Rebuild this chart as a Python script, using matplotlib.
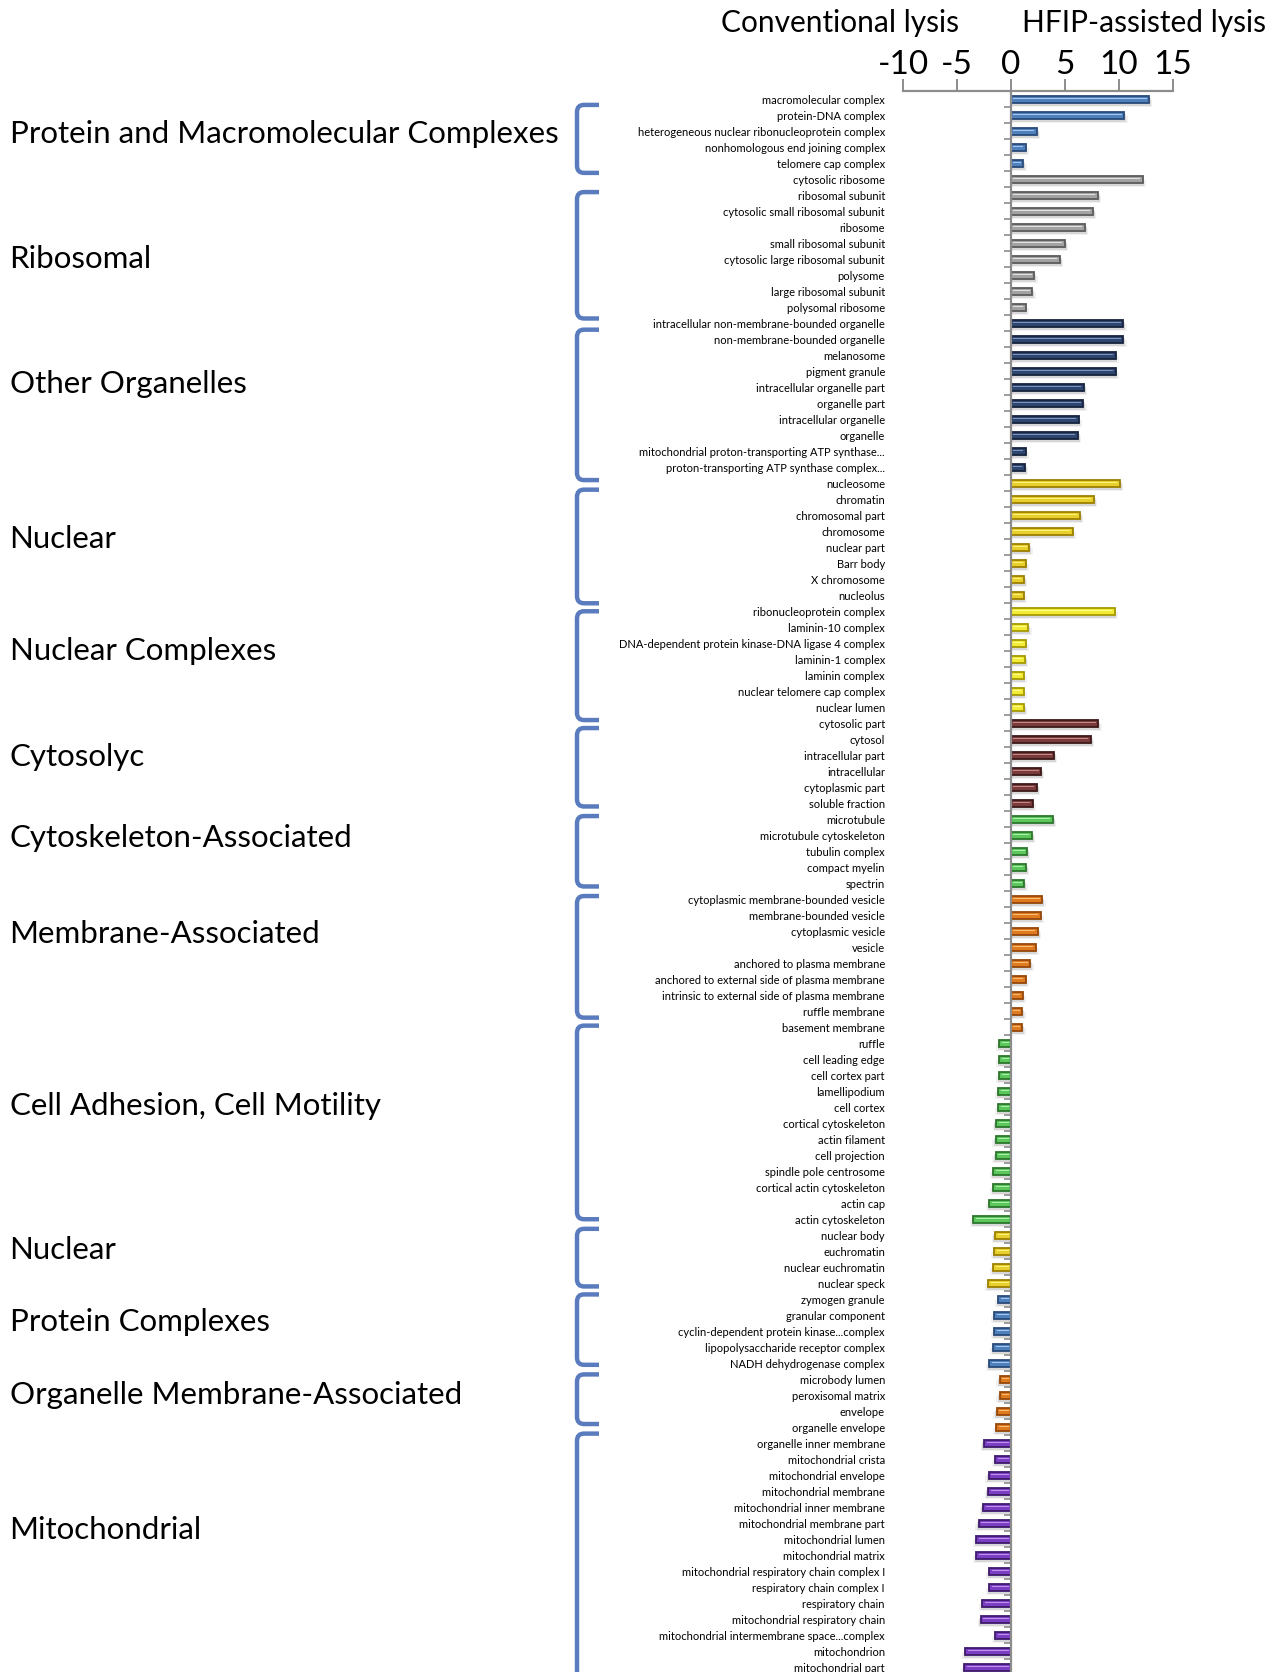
import numpy as np
import matplotlib.pyplot as plt
from matplotlib.path import Path
from matplotlib.patches import PathPatch

plt.rcParams['font.family'] = ['Lato', 'DejaVu Sans']
plt.rcParams['axes.unicode_minus'] = False

# GO cellular component terms, top to bottom
terms = [
    # Protein and Macromolecular Complexes
    'macromolecular complex', 'protein-DNA complex',
    'heterogeneous nuclear ribonucleoprotein complex',
    'nonhomologous end joining complex', 'telomere cap complex',
    # Ribosomal
    'cytosolic ribosome', 'ribosomal subunit', 'cytosolic small ribosomal subunit',
    'ribosome', 'small ribosomal subunit', 'cytosolic large ribosomal subunit',
    'polysome', 'large ribosomal subunit', 'polysomal ribosome',
    # Other Organelles
    'intracellular non-membrane-bounded organelle', 'non-membrane-bounded organelle',
    'melanosome', 'pigment granule', 'intracellular organelle part', 'organelle part',
    'intracellular organelle', 'organelle',
    'mitochondrial proton-transporting ATP synthase...',
    'proton-transporting ATP synthase complex...',
    # Nuclear
    'nucleosome', 'chromatin', 'chromosomal part', 'chromosome', 'nuclear part',
    'Barr body', 'X chromosome', 'nucleolus',
    # Nuclear Complexes
    'ribonucleoprotein complex', 'laminin-10 complex',
    'DNA-dependent protein kinase-DNA ligase 4 complex', 'laminin-1 complex',
    'laminin complex', 'nuclear telomere cap complex', 'nuclear lumen',
    # Cytosolyc
    'cytosolic part', 'cytosol', 'intracellular part', 'intracellular',
    'cytoplasmic part', 'soluble fraction',
    # Cytoskeleton-Associated
    'microtubule', 'microtubule cytoskeleton', 'tubulin complex', 'compact myelin',
    'spectrin',
    # Membrane-Associated
    'cytoplasmic membrane-bounded vesicle', 'membrane-bounded vesicle',
    'cytoplasmic vesicle', 'vesicle', 'anchored to plasma membrane',
    'anchored to external side of plasma membrane',
    'intrinsic to external side of plasma membrane', 'ruffle membrane',
    'basement membrane',
    # Cell Adhesion, Cell Motility
    'ruffle', 'cell leading edge', 'cell cortex part', 'lamellipodium', 'cell cortex',
    'cortical cytoskeleton', 'actin filament', 'cell projection',
    'spindle pole centrosome', 'cortical actin cytoskeleton', 'actin cap',
    'actin cytoskeleton',
    # Nuclear
    'nuclear body', 'euchromatin', 'nuclear euchromatin', 'nuclear speck',
    # Protein Complexes
    'zymogen granule', 'granular component', 'cyclin-dependent protein kinase...complex',
    'lipopolysaccharide receptor complex', 'NADH dehydrogenase complex',
    # Organelle Membrane-Associated
    'microbody lumen', 'peroxisomal matrix', 'envelope', 'organelle envelope',
    # Mitochondrial
    'organelle inner membrane', 'mitochondrial crista', 'mitochondrial envelope',
    'mitochondrial membrane', 'mitochondrial inner membrane',
    'mitochondrial membrane part', 'mitochondrial lumen', 'mitochondrial matrix',
    'mitochondrial respiratory chain complex I', 'respiratory chain complex I',
    'respiratory chain', 'mitochondrial respiratory chain',
    'mitochondrial intermembrane space...complex', 'mitochondrion',
    'mitochondrial part',
]

# enrichment: > 0 HFIP-assisted lysis, < 0 conventional lysis
scores = [
    12.8, 10.5, 2.4, 1.36, 1.15,
    12.2, 8.05, 7.6, 6.85, 5.0, 4.55, 2.17, 1.98, 1.36,
    10.4, 10.4, 9.7, 9.7, 6.75, 6.7, 6.25, 6.2, 1.36, 1.3,
    10.1, 7.7, 6.4, 5.7, 1.7, 1.36, 1.2, 1.18,
    9.6, 1.6, 1.36, 1.3, 1.18, 1.18, 1.2,
    8.1, 7.4, 4.0, 2.8, 2.4, 2.0,
    3.9, 1.95, 1.5, 1.4, 1.24,
    2.9, 2.75, 2.5, 2.3, 1.8, 1.36, 1.08, 1.05, 1.05,
    -1.1, -1.1, -1.1, -1.18, -1.18, -1.4, -1.42, -1.42, -1.64, -1.64, -2.0, -3.5,
    -1.5, -1.55, -1.64, -2.1,
    -1.18, -1.55, -1.55, -1.64, -2.0,
    -1.05, -1.05, -1.33, -1.36,
    -2.5, -1.45, -2.07, -2.14, -2.6, -3.0, -3.2, -3.2, -2.0, -2.0, -2.66, -2.8,
    -1.45, -4.24, -4.33,
]

group_names = ['Protein and Macromolecular Complexes', 'Ribosomal', 'Other Organelles',
               'Nuclear', 'Nuclear Complexes', 'Cytosolyc', 'Cytoskeleton-Associated',
               'Membrane-Associated', 'Cell Adhesion, Cell Motility', 'Nuclear',
               'Protein Complexes', 'Organelle Membrane-Associated', 'Mitochondrial']
group_sizes = [5, 9, 10, 8, 7, 6, 5, 9, 12, 4, 5, 4, 15]
group_colors = ['blue', 'gray', 'navy', 'gold', 'yellow', 'brown', 'green',
                'orange', 'green', 'gold', 'blue', 'orange', 'purple']

# fill, edge, highlight
palette = {
    'blue':   ('#4F81BD', '#2A4A78', '#A4C6F2'),
    'gray':   ('#A3A3A3', '#5A5A5A', '#E2E2E2'),
    'navy':   ('#2F4670', '#16233D', '#7D93BC'),
    'gold':   ('#E8CF2C', '#9C8000', '#FFF27A'),
    'yellow': ('#F2EC36', '#A69A00', '#FFFF90'),
    'brown':  ('#7A3B3B', '#3C1818', '#C48686'),
    'green':  ('#5BC65B', '#2C762C', '#A9F0A9'),
    'orange': ('#E07A1F', '#94480A', '#F8BC74'),
    'purple': ('#7B40C2', '#3D1A6B', '#BE92F2'),
}

# brace extents and label rows for the groups (in row units)
brace_spans = [(0.35, 4.6), (5.8, 13.7), (14.4, 23.8), (24.4, 31.5), (32.0, 38.8),
               (39.3, 44.2), (44.8, 49.2), (49.8, 57.4), (57.9, 70.0), (70.6, 74.2),
               (74.7, 79.1), (79.7, 82.8), (83.4, 99.5)]
label_rows = [2.14, 10.0, 17.8, 27.5, 34.5, 41.1, 46.2, 52.2, 62.9, 71.9, 76.4, 81.0, 89.4]

W, H = 1283, 1672
fig = plt.figure(figsize=(W / 100, H / 100), dpi=100)
top = 1 - 90.5 / H
ax = fig.add_axes([903 / W, 0, 270 / W, top])

n = len(terms)
y = np.arange(n)
vals = np.array(scores)
sgn = np.sign(vals)
keys = np.repeat(group_colors, group_sizes)
fills = [palette[k][0] for k in keys]
edges = [palette[k][1] for k in keys]
lights = [palette[k][2] for k in keys]

# soft drop shadow
for dy, ext, a in [(0.18, 0.15, 0.16), (0.26, 0.3, 0.08)]:
    ax.barh(y + dy, vals + sgn * ext, height=0.46, color='#555555', alpha=a, lw=0, zorder=1)
# bars
ax.barh(y, vals, height=0.42, color=fills, edgecolor=edges, linewidth=1.3, zorder=2)
# glossy stripe
ax.barh(y - 0.04, vals - sgn * 0.45, left=sgn * 0.2, height=0.1,
        color=lights, lw=0, zorder=3)

ax.axvline(0, color='#8C8C8C', lw=1.6, zorder=4)
ax.plot(np.zeros(n), y + 0.5, ls='none', marker=0, ms=5, mew=1.2, color='#8C8C8C', zorder=4)

ax.set_xlim(-10, 15)
ax.set_ylim(98.3, -0.55)
for s in ['left', 'right', 'bottom']:
    ax.spines[s].set_visible(False)
ax.spines['top'].set_color('#8C8C8C')
ax.spines['top'].set_linewidth(1.6)
ax.xaxis.tick_top()
ax.set_xticks([-10, -5, 0, 5, 10, 15])
ax.tick_params(axis='x', direction='out', length=9, width=1.4, color='#8C8C8C',
               labelsize=24, pad=-1.5)
ax.set_yticks(y)
ax.set_yticklabels(terms, fontsize=8)
ax.tick_params(axis='y', length=0, pad=13)
ax.patch.set_visible(False)

fig.text(721 / W, 1 - 32 / H, 'Conventional lysis', fontsize=21.5, va='baseline')
fig.text(1022 / W, 1 - 32 / H, 'HFIP-assisted lysis', fontsize=21.5, va='baseline')

# group braces and names
bx = fig.add_axes([0, 0, 1, top])
bx.set_xlim(0, W)
bx.set_ylim(ax.get_ylim())
bx.axis('off')

def brace(t, b, x0=577, x1=599, rx=7, ry=0.45):
    verts = [(x1, t), (x0 + rx, t), (x0, t), (x0, t + ry),
             (x0, b - ry), (x0, b), (x0 + rx, b), (x1, b)]
    codes = [Path.MOVETO, Path.LINETO, Path.CURVE3, Path.CURVE3,
             Path.LINETO, Path.CURVE3, Path.CURVE3, Path.LINETO]
    return PathPatch(Path(verts, codes), fill=False, ec='#5A7CBE', lw=3.2,
                     capstyle='butt', clip_on=False)

for (t, b), name, r in zip(brace_spans, group_names, label_rows):
    bx.add_patch(brace(t, b))
    bx.text(9.6, r, name, fontsize=22.5, va='center', ha='left')

plt.savefig('out.png', dpi=100)
